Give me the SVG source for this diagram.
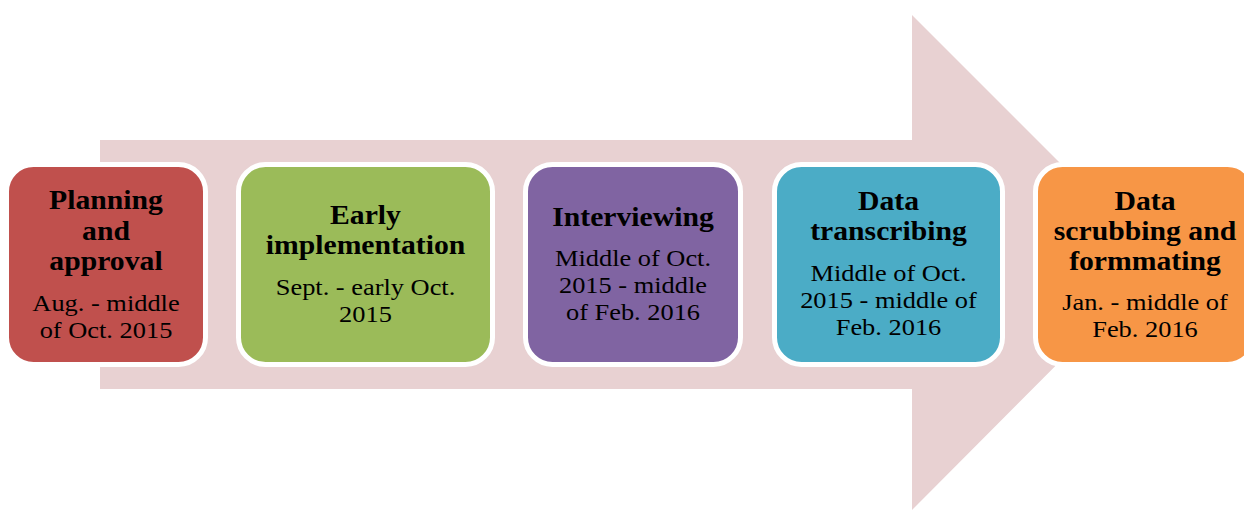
<svg xmlns="http://www.w3.org/2000/svg" width="1244" height="510" viewBox="0 0 1244 510">
<style>
.box{stroke:#FFFFFF;stroke-width:5}
.h{font-family:"Liberation Serif","Times New Roman",serif;font-weight:bold;font-size:27px;fill:#000;text-anchor:middle}
.b{font-family:"Liberation Serif","Times New Roman",serif;font-size:24px;fill:#000;text-anchor:middle}
</style>
<rect width="1244" height="510" fill="#FFFFFF"/>
<g id="connectors">
<path d="M100,140 H912 V15 L1159,262 L912,510 V389 H100 Z" fill="#E8D1D2"/>
</g>
<g id="node1">
<rect class="box" x="6.5" y="164.5" width="199" height="200" rx="27" fill="#C0504D"/>
<g transform="translate(106,0) scale(1.1,1)">
<text class="h" x="0" y="209">Planning</text>
<text class="h" x="0" y="240">and</text>
<text class="h" x="0" y="270">approval</text>
<text class="b" x="0" y="311">Aug. - middle</text>
<text class="b" x="0" y="338">of Oct. 2015</text>
</g>
</g>
<g id="node2">
<rect class="box" x="238.5" y="164.5" width="254" height="200" rx="27" fill="#9BBB59"/>
<g transform="translate(365.5,0) scale(1.1,1)">
<text class="h" x="0" y="224">Early</text>
<text class="h" x="0" y="254">implementation</text>
<text class="b" x="0" y="295">Sept. - early Oct.</text>
<text class="b" x="0" y="322">2015</text>
</g>
</g>
<g id="node3">
<rect class="box" x="525.5" y="164.5" width="215" height="200" rx="27" fill="#8064A2"/>
<g transform="translate(633,0) scale(1.1,1)">
<text class="h" x="0" y="226">Interviewing</text>
<text class="b" x="0" y="266">Middle of Oct.</text>
<text class="b" x="0" y="293">2015 - middle</text>
<text class="b" x="0" y="320">of Feb. 2016</text>
</g>
</g>
<g id="node4">
<rect class="box" x="774.5" y="164.5" width="228" height="200" rx="27" fill="#4BACC6"/>
<g transform="translate(888.5,0) scale(1.1,1)">
<text class="h" x="0" y="210">Data</text>
<text class="h" x="0" y="240">transcribing</text>
<text class="b" x="0" y="281">Middle of Oct.</text>
<text class="b" x="0" y="308">2015 - middle of</text>
<text class="b" x="0" y="335">Feb. 2016</text>
</g>
</g>
<g id="node5">
<rect class="box" x="1035.5" y="164.5" width="219" height="200" rx="27" fill="#F79646"/>
<g transform="translate(1145,0) scale(1.1,1)">
<text class="h" x="0" y="210">Data</text>
<text class="h" x="0" y="240">scrubbing and</text>
<text class="h" x="0" y="270">formmating</text>
<text class="b" x="0" y="310">Jan. - middle of</text>
<text class="b" x="0" y="337">Feb. 2016</text>
</g>
</g>
</svg>
